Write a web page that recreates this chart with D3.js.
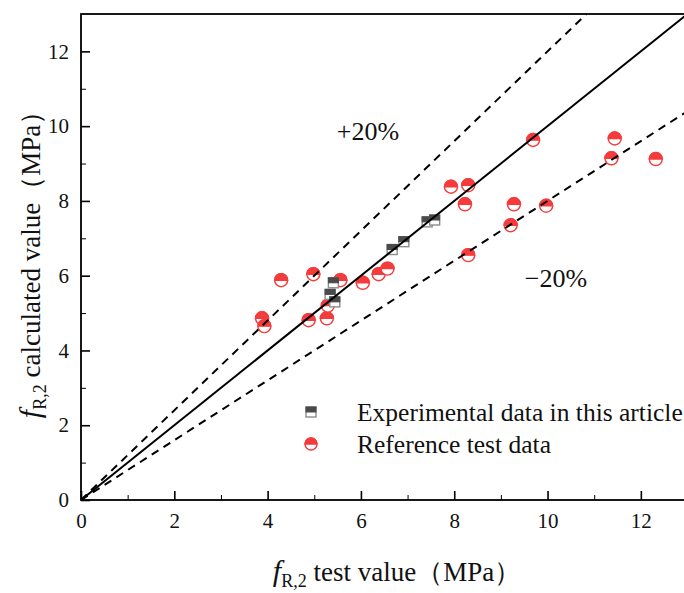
<!DOCTYPE html>
<html>
<head>
<meta charset="utf-8">
<script src="https://cdn.jsdelivr.net/npm/d3@7"></script>
<style>
  body { margin: 0; background: #fff; }
  svg { display: block; }
  text { font-family: "Liberation Serif", "Times New Roman", serif; fill: #111; }
</style>
</head>
<body>
<svg id="chart" width="684" height="593"></svg>
<script>
// data (x = test value, y = calculated value, MPa)
var expX = [5.41, 5.34, 5.44, 6.67, 6.92, 7.42, 7.58];
var expY = [5.81, 5.50, 5.30, 6.70, 6.91, 7.44, 7.49];

var refX = [3.88, 3.93, 4.29, 4.88, 4.98, 5.27, 5.29, 5.56, 6.04, 6.38, 6.57,
            7.93, 8.30, 8.23, 9.28, 9.97, 9.21, 8.30, 9.69, 11.44, 11.37, 12.32];
var refY = [4.86, 4.65, 5.88, 4.81, 6.04, 4.86, 5.20, 5.88, 5.81, 6.04, 6.19,
            8.38, 8.42, 7.91, 7.91, 7.87, 7.35, 6.55, 9.63, 9.67, 9.14, 9.12];

var ratios = [1, 1.2, 0.8];
var ratioDash = [null, '8,6', '8,6'];
var majorTicks = [0, 2, 4, 6, 8, 10, 12];
var minorTicks = [1, 3, 5, 7, 9, 11];
var legendNames = ['Experimental data in this article', 'Reference test data'];

var red = '#f53b3b';
var dark = '#4a4a4a';
var grey = '#8c8c8c';

var svg = d3.select('#chart');

var x = d3.scaleLinear().domain([0, 13]).range([81, 687.5]);
var y = d3.scaleLinear().domain([0, 13]).range([500, 14]);

svg.append('clipPath')
  .attr('id','plotclip')
  .append('rect')
  .attr('x', x(0)).attr('y', y(13))
  .attr('width', x(13) - x(0)).attr('height', y(0) - y(13));

// minor ticks
svg.append('g')
  .attr('transform','translate(0,' + y(0) + ')')
  .call(d3.axisBottom(x).tickValues(minorTicks).tickSize(-5).tickFormat(''))
  .call(function(g){ g.select('.domain').remove(); });
svg.append('g')
  .attr('transform','translate(' + x(0) + ',0)')
  .call(d3.axisLeft(y).tickValues(minorTicks).tickSize(-5).tickFormat(''))
  .call(function(g){ g.select('.domain').remove(); });

// major ticks
var xAxis = svg.append('g')
  .attr('transform','translate(0,' + y(0) + ')')
  .call(d3.axisBottom(x).tickValues(majorTicks).tickSize(-9).tickPadding(13).tickFormat(d3.format('d')));
var yAxis = svg.append('g')
  .attr('transform','translate(' + x(0) + ',0)')
  .call(d3.axisLeft(y).tickValues(majorTicks).tickSize(-9).tickPadding(12).tickFormat(d3.format('d')));

[xAxis, yAxis].forEach(function(g){
  g.selectAll('.domain').remove();
  g.selectAll('.tick line').attr('stroke','#000').attr('stroke-width',1.6);
  g.selectAll('.tick text')
    .style('font-family','"Liberation Serif", "Times New Roman", serif')
    .style('font-size','21px')
    .attr('fill','#222');
});

// frame
svg.append('rect')
  .attr('x', x(0)).attr('y', y(13))
  .attr('width', x(13) - x(0)).attr('height', y(0) - y(13))
  .attr('fill','none')
  .attr('stroke','#000')
  .attr('stroke-width',1.8);

var plot = svg.append('g').attr('clip-path','url(#plotclip)');

// reference test data
var refG = plot.append('g');
refX.forEach(function(v, i){
  halfCircle(refG, x(v), y(refY[i]), 6.5);
});

// experimental data
var expG = plot.append('g');
expX.forEach(function(v, i){
  halfSquare(expG, x(v), y(expY[i]), 10);
});

// 1:1 and +-20% lines
ratios.forEach(function(k, i){
  var xe = Math.min(13, 13 / k);
  plot.append('line')
    .attr('x1', x(0)).attr('y1', y(0))
    .attr('x2', x(xe)).attr('y2', y(k * xe))
    .attr('stroke','#000')
    .attr('stroke-width', 2)
    .attr('stroke-dasharray', ratioDash[i]);
});

function halfCircle(g, cx, cy, r){
  g.append('circle')
    .attr('cx', cx).attr('cy', cy).attr('r', r)
    .attr('fill','#fff')
    .attr('stroke', red)
    .attr('stroke-width', 1.4);
  g.append('path')
    .attr('d', 'M' + (cx - r) + ',' + cy + ' A' + r + ',' + r + ' 0 0 1 ' + (cx + r) + ',' + cy + ' Z')
    .attr('fill', red)
    .attr('stroke', red)
    .attr('stroke-width', 1.4);
}

function halfSquare(g, cx, cy, s){
  g.append('rect')
    .attr('x', cx - s / 2).attr('y', cy - s / 2)
    .attr('width', s).attr('height', s)
    .attr('fill','#fff')
    .attr('stroke', grey)
    .attr('stroke-width', 1.4);
  g.append('rect')
    .attr('x', cx - s / 2).attr('y', cy - s / 2)
    .attr('width', s).attr('height', s / 2)
    .attr('fill', dark)
    .attr('stroke', dark)
    .attr('stroke-width', 1);
}

// annotations
svg.append('text')
  .attr('x', 368).attr('y', 140)
  .attr('text-anchor','middle')
  .style('font-size','26px')
  .text('+20%');
svg.append('text')
  .attr('x', 556).attr('y', 287)
  .attr('text-anchor','middle')
  .style('font-size','26px')
  .text('\u221220%');

// legend
var leg = svg.append('g');
halfSquare(leg, 311, 412, 10);
halfCircle(leg, 311, 444, 6);
leg.selectAll('text.leg')
  .data(legendNames)
  .enter()
  .append('text')
  .attr('class','leg')
  .attr('x', 357)
  .attr('y', function(d, i){ return 421 + i * 32; })
  .style('font-size','25.5px')
  .text(function(d){ return d; });

// axis titles
function fLabel(t, rest){
  t.append('tspan').style('font-style','italic').style('font-size','30px').text('f');
  t.append('tspan').attr('dy', 6).style('font-size','18px').text('R,2');
  t.append('tspan').attr('dy', -6).style('font-size','27px').text(rest);
}

var xt = svg.append('text')
  .attr('x', 397).attr('y', 581)
  .attr('text-anchor','middle');
fLabel(xt, ' test value\uff08MPa\uff09');

var yt = svg.append('text')
  .attr('transform','translate(40,258) rotate(-90)')
  .attr('text-anchor','middle');
fLabel(yt, ' calculated value\uff08MPa\uff09');
</script>
</body>
</html>
